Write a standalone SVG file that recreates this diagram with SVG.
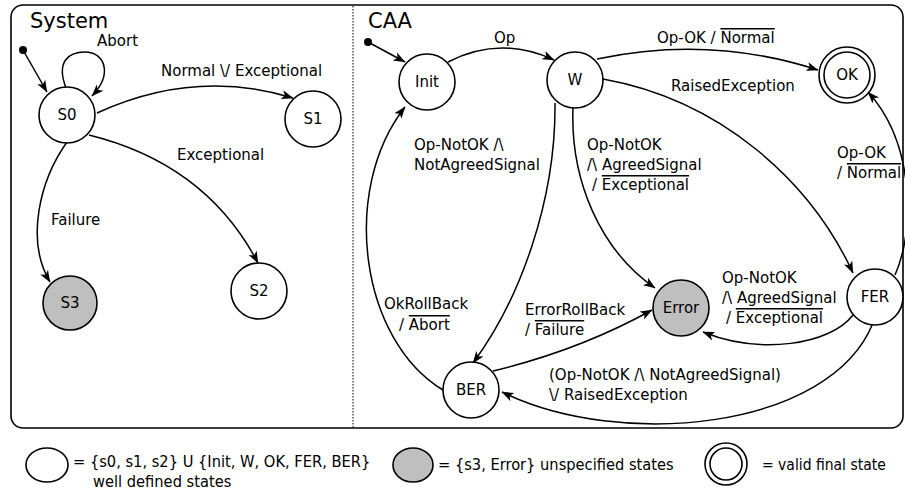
<svg xmlns="http://www.w3.org/2000/svg" width="905" height="490" viewBox="0 0 905 490">
<defs>
<style>
.n{fill:#fff;stroke:#000;stroke-width:1.6}
.g{fill:#bfbfbf;stroke:#000;stroke-width:1.6}
.e{fill:none;stroke:#000;stroke-width:1.5;marker-end:url(#a)}
text{font-family:"DejaVu Sans","Bitstream Vera Sans",sans-serif;font-size:15px;fill:#000}
.nl{font-size:15px;text-anchor:middle}
.t{font-size:21px}
.lg{font-family:"DejaVu Sans Condensed","DejaVu Sans",sans-serif;font-stretch:condensed;font-size:16.3px}
.o{text-decoration:overline}
</style>
<marker id="a" viewBox="0 0 12 10" refX="11.5" refY="5" markerWidth="12" markerHeight="10" markerUnits="userSpaceOnUse" orient="auto">
<path d="M0,0.5 L12,5 L0,9.5 L3,5 Z" fill="#000"/>
</marker>
</defs>
<rect x="11" y="5" width="892" height="423" rx="12" fill="#fff" stroke="#000" stroke-width="1.6"/>
<line x1="353" y1="6" x2="353" y2="427" stroke="#000" stroke-width="1" stroke-dasharray="1.5,1.5"/>
<text class="t" x="30" y="28">System</text>
<text class="t" x="368" y="28">CAA</text>

<g id="connectors">
<circle cx="23" cy="50" r="4" fill="#000"/>
<path class="e" d="M23,50 L47,92"/>
<path class="e" d="M66,88 C56,62 68,52 85,52 C105,52 113,74 92,96"/>
<path class="e" d="M97,113 Q195,68 293,98"/>
<path class="e" d="M89,135 C170,155 225,200 258,263"/>
<path class="e" d="M67,142 C40,180 25,240 50,282"/>
<circle cx="368" cy="42" r="4" fill="#000"/>
<path class="e" d="M368,42 L405,62"/>
<path class="e" d="M448,62 Q500,35 554,60"/>
<path class="e" d="M597,59 Q710,35 818,70"/>
<path class="e" d="M603,79 C720,100 810,180 853,273"/>
<path class="e" d="M573,107 C570,180 600,250 655,288"/>
<path class="e" d="M555,103 C556,200 520,300 473,363"/>
<path class="e" d="M443,390 C360,340 340,190 405,107"/>
<path class="e" d="M493,371 Q580,350 652,310"/>
<path class="e" d="M853,315 C830,345 760,355 703,332"/>
<path class="e" d="M895,275 C917,225 912,140 868,92"/>
<path class="e" d="M873,323 C830,430 620,450 502,392"/>
</g>

<g id="labels">
<text x="97" y="46">Abort</text>
<text x="161" y="76">Normal \/ Exceptional</text>
<text x="177" y="160">Exceptional</text>
<text x="51" y="225">Failure</text>
<text x="494" y="43">Op</text>
<text x="657" y="43">Op-OK / <tspan class="o">Normal</tspan></text>
<text x="671" y="91">RaisedException</text>
<text x="414" y="150">Op-NotOK /\</text>
<text x="414" y="170">NotAgreedSignal</text>
<text x="587" y="150">Op-NotOK</text>
<text x="587" y="170">/\ AgreedSignal</text>
<text x="592" y="190">/ <tspan class="o">Exceptional</tspan></text>
<text x="837" y="158">Op-OK</text>
<text x="837" y="178">/ <tspan class="o">Normal</tspan></text>
<text x="384" y="309">OkRollBack</text>
<text x="399" y="330">/ <tspan class="o">Abort</tspan></text>
<text x="525" y="315">ErrorRollBack</text>
<text x="525" y="335">/ <tspan class="o">Failure</tspan></text>
<text x="722" y="283">Op-NotOK</text>
<text x="722" y="303">/\ AgreedSignal</text>
<text x="726" y="323">/ <tspan class="o">Exceptional</tspan></text>
<text x="549" y="380">(Op-NotOK /\ NotAgreedSignal)</text>
<text x="549" y="400">\/ RaisedException</text>
</g>

<g id="S0"><circle class="n" cx="67" cy="115" r="28"/><text class="nl" x="67" y="120">S0</text></g>
<g id="S1"><circle class="n" cx="313" cy="119" r="28"/><text class="nl" x="313" y="124">S1</text></g>
<g id="S2"><circle class="n" cx="259" cy="291" r="28"/><text class="nl" x="259" y="296">S2</text></g>
<g id="S3"><circle class="g" cx="70" cy="303" r="27"/><text class="nl" x="70" y="308">S3</text></g>
<g id="Init"><circle class="n" cx="427" cy="82" r="28"/><text class="nl" x="427" y="87">Init</text></g>
<g id="W"><circle class="n" cx="575" cy="80" r="28"/><text class="nl" x="575" y="85">W</text></g>
<g id="OK"><circle class="n" cx="847" cy="75" r="28"/><circle class="n" cx="847" cy="75" r="23"/><text class="nl" x="847" y="80">OK</text></g>
<g id="Error"><circle class="g" cx="681" cy="308" r="28"/><text class="nl" x="681" y="313">Error</text></g>
<g id="FER"><circle class="n" cx="875" cy="297" r="28"/><text class="nl" x="875" y="302">FER</text></g>
<g id="BER"><circle class="n" cx="471" cy="390" r="28"/><text class="nl" x="471" y="395">BER</text></g>

<g id="legend">
<ellipse class="n" cx="47" cy="465" rx="21" ry="17"/>
<text class="lg" x="73" y="467">= {s0, s1, s2} U {Init, W, OK, FER, BER}</text>
<text class="lg" x="93" y="487">well defined states</text>
<ellipse class="g" cx="413" cy="465" rx="20" ry="17"/>
<text class="lg" x="438" y="470">= {s3, Error} unspecified states</text>
<circle class="n" cx="726" cy="464" r="21"/>
<circle class="n" cx="726" cy="464" r="16"/>
<text class="lg" x="762" y="470" style="font-size:15.5px">= valid final state</text>
</g>
</svg>
